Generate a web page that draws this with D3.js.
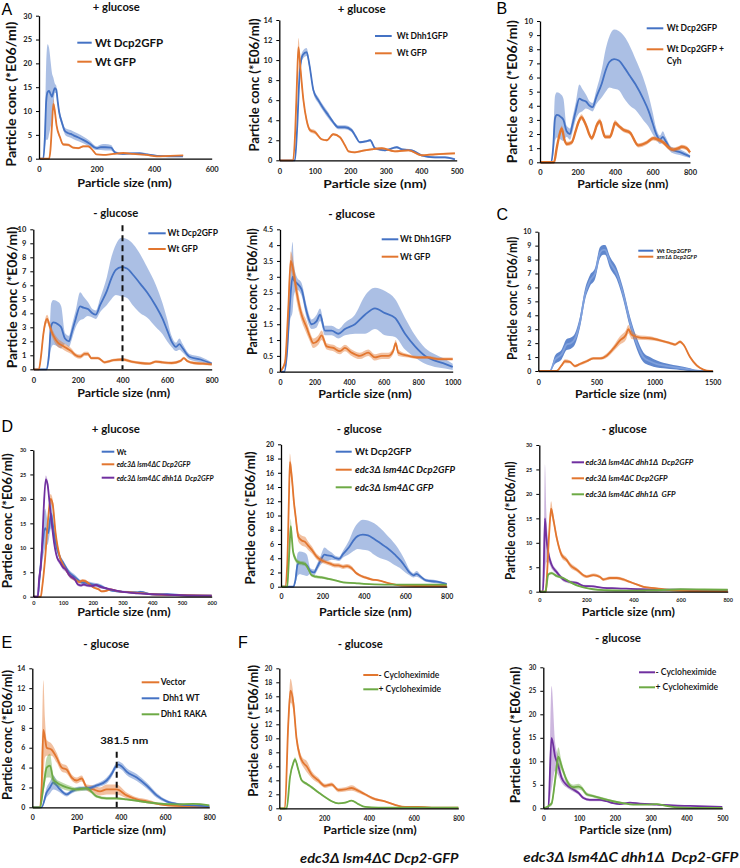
<!DOCTYPE html>
<html><head><meta charset="utf-8">
<script src="https://cdn.jsdelivr.net/npm/d3@7"></script>
<style>body{margin:0;background:#fff}text{white-space:pre}</style>
</head><body>
<svg id="c" width="740" height="868"></svg>
<script>
// ---------- DATA (particle size nm, conc *E06/ml, error half-width) ----------
// A +glucose: Wt Dcp2GFP / Wt GFP
const a1DcpX=[0,15,20,25,30,35,40,45,50,55,60,65,70,80,90,100,110,120,135,155,175,200,215,230,250,265,290,320,350,375,410,450,500];
const a1DcpY=[0,0,4,12,14,14.2,13.6,13,14,14.8,14.5,12,9.8,7.5,5.8,5.4,5.2,4.9,4.5,3.9,3.2,2.2,2.4,2.4,2.3,1.3,1.0,1.1,1.1,0.9,0.6,0.5,0.5];
const a1DcpE=[0,0,2,8,10,9,7,5,3,1,0.8,0.8,0.7,0.7,0.7,0.8,0.8,0.8,0.8,0.7,0.6,0.4,0.6,0.7,0.6,0.3,0.2,0.2,0.3,0.2,0.1,0.1,0.1];
const a1GfpX=[0,35,40,45,50,55,61,73,84,102,119,137,154,171,189,200,223,258,293,328,374,409,455,501];
const a1GfpY=[0,0,2,7,11.5,10,7,4.5,3,2.9,2.3,2.2,2.6,2.6,1.6,0.9,0.8,1.0,1.2,1.0,0.8,0.5,0.6,0.7];
const a1GfpE=[0,0,0.5,0.8,1,0.8,0.5,0.3,0.3,0.3,0.2,0.2,0.2,0.2,0.2,0.1,0.1,0.1,0.1,0.1,0.1,0.1,0.1,0.1];
// A +glucose: Wt Dhh1GFP / Wt GFP
const a2DhhX=[0,44,50,58,66,77,85,96,110,124,138,152,166,185,204,215,227,245,256,270,298,331,345,373,401,439,467,495];
const a2DhhY=[0,0,3,9,10.5,10.8,9.5,7,6,5.2,4.5,3.8,3.3,3.3,3,2.4,1.8,1.9,2,1.2,1,1.3,1.1,1,0.5,0.3,0.3,0.1];
const a2DhhE=[0,0,0.5,0.5,0.4,0.4,0.3,0.3,0.3,0.3,0.3,0.2,0.2,0.2,0.2,0.2,0.1,0.1,0.1,0.1,0.1,0.1,0.1,0.1,0.1,0.1,0.1,0.1];
const a2GfpX=[0,39,45,50,54,60,68,77,87,101,119,134,152,171,185,195,213,241,260,289,326,364,401,439,495];
const a2GfpY=[0,0,3,8,11.3,9,6,4,3,2.8,2.1,2.0,2.6,2.3,1.5,0.9,0.8,1,1.1,1.2,0.9,1,0.5,0.6,0.7];
const a2GfpE=[0,0,0.5,0.8,0.9,0.6,0.4,0.3,0.2,0.2,0.1,0.1,0.1,0.1,0.1,0.1,0.1,0.1,0.1,0.1,0.1,0.1,0.1,0.1,0.1];
// -glucose Wt Dcp2GFP (B, A lower left, D middle)
const ngDcpX=[0,60,70,80,90,112,125,142,160,172,190,210,225,245,265,280,300,330,350,370,395,420,450,480,510,550,580,600,620,640,655,670,700,750,800];
const ngDcpY=[0,0,1,3.1,3.35,3.2,3.0,2.2,2.0,2.6,3.6,4.5,4.4,4.3,4.0,3.9,4.6,5.6,6.5,7.1,7.3,7.2,6.7,6.1,5.5,4.5,3.6,2.8,2.0,1.6,1.8,1.5,0.9,0.7,0.4];
const ngDcpE=[0,0,0.5,1.6,1.6,1.6,1.5,0.4,0.4,0.5,0.6,1.0,0.8,0.5,0.3,0.3,0.5,1.0,1.5,1.8,2.1,2.1,2.2,2.1,1.8,1.5,1.1,0.8,0.4,0.3,0.4,0.3,0.2,0.2,0.1];
// B: Wt Dcp2GFP + Cyh
const bCyhX=[0,75,89,105,116,130,142,169,190,204,222,236,249,262,276,290,302,320,335,347,373,390,400,418,444,480,524,569,604,630,658,690,711,740,756,782,800];
const bCyhY=[0,0,1.0,2.0,2.4,1.6,1.3,1.4,2.2,2.8,3.2,2.9,2.5,2.0,1.7,2.1,2.6,2.9,2.2,1.8,1.8,2.4,2.8,2.6,2.3,2.1,1.2,1.4,1.7,1.6,1.4,1.0,0.9,1.0,1.1,1.0,0.7];
const bCyhE=[0,0,0.15,0.2,0.2,0.15,0.15,0.15,0.15,0.2,0.2,0.2,0.15,0.15,0.15,0.15,0.2,0.2,0.15,0.15,0.15,0.2,0.2,0.15,0.15,0.15,0.15,0.15,0.15,0.15,0.15,0.15,0.15,0.15,0.15,0.15,0.15];
// A -glucose: Wt GFP
const a3GfpX=[0,25,35,45,55,62,75,90,110,130,150,170,190,210,230,245,260,290,320,360,400,440,480,520,550,580,620,660,675,690,720,760,800];
const a3GfpY=[0,0,1.0,2.5,3.4,3.6,3.0,2.4,1.9,1.7,1.5,1.3,1.0,0.9,1.1,1.1,0.8,0.8,0.5,0.65,0.7,0.55,0.45,0.4,0.55,0.5,0.45,0.6,0.8,0.6,0.45,0.4,0.35];
const a3GfpE=[0,0,0.3,0.3,0.3,0.3,0.3,0.3,0.3,0.25,0.25,0.2,0.15,0.15,0.15,0.15,0.1,0.1,0.1,0.1,0.1,0.1,0.1,0.1,0.1,0.1,0.1,0.1,0.1,0.1,0.1,0.1,0.1];
const a3Marker=400;
// A -glucose: Wt Dhh1GFP / Wt GFP
const a4DhhX=[0,25,39,58,73,80,97,125,154,183,212,232,260,299,338,376,434,492,550,608,666,724,782,840,897,955,1000];
const a4DhhY=[0,0,0.5,2.2,3.0,2.9,2.8,2.6,1.9,1.5,1.6,1.8,1.3,1.3,1.2,1.35,1.5,1.8,2.0,1.85,1.7,1.2,0.8,0.5,0.35,0.25,0.15];
const a4DhhE=[0,0,0.2,0.6,1.1,0.5,0.2,0.2,0.2,0.15,0.2,0.2,0.15,0.15,0.15,0.2,0.3,0.6,0.65,0.7,0.6,0.5,0.35,0.25,0.2,0.15,0.1];
const a4GfpX=[0,29,48,62,77,97,125,154,174,193,222,241,270,309,347,376,415,463,511,550,589,627,655,670,685,743,801,859,917,1000];
const a4GfpY=[0,0.3,2,3.5,3.2,2.5,1.8,1.4,1.1,0.9,1.0,1.15,0.8,0.75,0.65,0.75,0.6,0.5,0.6,0.45,0.5,0.5,0.65,0.9,0.6,0.5,0.45,0.45,0.4,0.4];
const a4GfpE=[0,0.1,0.3,0.3,0.3,0.3,0.2,0.2,0.15,0.15,0.15,0.15,0.1,0.1,0.1,0.1,0.1,0.1,0.1,0.1,0.1,0.1,0.1,0.1,0.1,0.05,0.05,0.05,0.05,0.05];
// C: Wt Dcp2GFP / xrn1 Dcp2GFP
const cWtX=[0,100,143,201,244,280,315,358,402,445,488,531,560,574,617,674,731,789,846,903,960,1020,1075,1190,1305,1391,1500];
const cWtY=[0,0,0.8,1.2,1.9,2.0,2.3,3.5,5.5,6.5,7.0,8.5,8.7,8.7,7.8,7.0,5.5,3.5,2.0,1.0,0.7,0.5,0.4,0.25,0.1,0,0];
const cWtE=[0,0,0.3,0.35,0.4,0.4,0.4,0.4,0.4,0.4,0.4,0.4,0.35,0.35,0.4,0.4,0.4,0.4,0.4,0.35,0.3,0.25,0.2,0.15,0.1,0,0];
const cXrnX=[0,158,200,229,272,315,358,416,473,531,588,645,703,754,774,790,803,875,961,1047,1133,1176,1219,1248,1305,1362,1420,1477,1500];
const cXrnY=[0,0,0.4,0.7,0.65,0.35,0.5,0.7,0.9,0.9,1.1,1.6,2.2,2.6,3.0,2.8,2.6,2.4,2.35,2.2,2.0,1.9,2.1,1.9,1.0,0.4,0.1,0,0];
const cXrnE=[0,0,0.1,0.15,0.1,0.1,0.1,0.1,0.1,0.1,0.15,0.2,0.3,0.35,0.3,0.3,0.3,0.15,0.15,0.1,0.1,0.1,0.1,0.1,0.1,0.1,0.05,0,0];
// D +glucose
const d1WtX=[0,15,20,30,40,50,60,65,75,90,100,120,140,160,180,200,220,240,260,300,350,360,400,450,500,600];
const d1WtY=[0,0,3,10,14,13,17,15,11,8,7,5,4,3,2.8,2.5,2.3,1.8,1.3,1,0.9,1,0.5,0.5,0.3,0.2];
const d1WtE=[0,0,1,3,4,2,3,2,1,0.6,0.5,0.5,0.5,0.4,0.4,0.4,0.4,0.3,0.2,0.2,0.2,0.2,0.1,0.1,0.1,0.1];
const d1LsmX=[0,25,30,40,50,58,65,75,90,100,110,120,140,155,165,175,190,200,220,230,245,260,280,300,350,400,500,600];
const d1LsmY=[0,0,2,8,16,20,19,13,8,6.5,5.5,4.5,3.5,3,3.3,3.2,2.5,2,1.5,1.1,1.2,1.5,1.2,1,0.8,0.5,0.3,0.2];
const d1LsmE=[0,0,0.5,1,1,1,1,0.8,0.5,0.4,0.4,0.3,0.3,0.3,0.3,0.3,0.2,0.2,0.2,0.2,0.2,0.2,0.1,0.1,0.1,0.1,0.1,0.1];
const d1DhhX=[0,15,20,25,30,35,42,48,55,62,70,80,90,100,110,120,140,150,160,170,180,200,210,225,240,260,300,350,400,450,500,600];
const d1DhhY=[0,0,4,6,11,18,24,23,19,15,11,8,7,6,5.5,4.5,3.5,2.5,2.3,2.5,2.3,2.2,2.4,2,1.8,1.5,1.0,0.7,0.5,0.4,0.3,0.2];
const d1DhhE=[0,0,1.5,1.5,1.5,1,0.8,0.8,0.8,0.6,0.5,0.5,0.5,0.5,0.5,0.5,0.4,0.3,0.3,0.3,0.3,0.3,0.3,0.3,0.2,0.2,0.2,0.1,0.1,0.1,0.1,0.1];
// D -glucose (middle)
const d2LsmX=[0,20,30,38,43,48,55,62,70,84,100,116,130,148,170,190,212,240,260,277,300,320,341,360,380,406,440,470,518,550,583,650,800];
const d2LsmY=[0,0,3,12,17.5,16.5,14.5,12,10,7,6.5,6.3,5.8,5.2,4.3,3.8,3.5,3.2,3.0,3.0,2.8,2.9,2.6,2.0,1.6,1.3,1.0,0.9,0.5,0.3,0.15,0.1,0.1];
const d2LsmE=[0,0,1,1.2,1.2,1.2,1,0.9,0.8,0.7,0.7,0.7,0.6,0.5,0.4,0.4,0.3,0.3,0.3,0.3,0.3,0.3,0.3,0.2,0.2,0.2,0.15,0.1,0.1,0.1,0.05,0.05,0.05];
const d2GfpX=[0,30,35,42,47,52,58,68,80,100,116,130,148,170,196,230,261,300,357,400,500,600,700,800];
const d2GfpY=[0,0,2,6,8.5,7,5,4,3.5,3.3,3.2,2.6,1.6,1.4,1.3,1.1,0.9,0.6,0.5,0.4,0.3,0.3,0.3,0.3];
const d2GfpE=[0,0,0.5,0.8,1,0.8,0.5,0.4,0.3,0.3,0.3,0.3,0.2,0.2,0.2,0.15,0.1,0.1,0.1,0.1,0.05,0.05,0.05,0.05];
// D -glucose (right)
const d3DhhX=[0,15,18,24,30,38,52,74,102,130,159,187,229,272,329,428,569,800];
const d3DhhY=[0,0,3,15,11,8,5.5,4,2.5,2,1.8,1.2,1.1,0.8,0.7,0.5,0.4,0.3];
const d3DhhE=[0,0,2,11,5,2,0.8,0.5,0.4,0.3,0.3,0.2,0.2,0.1,0.1,0.1,0.1,0.05];
const d3LsmX=[0,28,31,42,50,59,74,95,116,130,159,201,229,258,272,300,329,357,385,413,442,498,541,583,640,800];
const d3LsmY=[0,0,2,12,17,15,11,7.5,6.5,5.5,4.5,3.1,3.4,3,2.5,2.8,2.8,2.5,2,1.5,1.0,0.7,0.4,0.2,0.1,0.05];
const d3LsmE=[0,0,0.5,1,1.5,1,0.8,0.6,0.5,0.5,0.4,0.3,0.3,0.3,0.3,0.3,0.3,0.3,0.2,0.2,0.2,0.1,0.1,0.05,0.05,0.05];
const d3GfpX=[0,26,30,38,52,74,102,130,159,187,229,286,357,450,500,600,700,800];
const d3GfpY=[0,0,1,3.5,3.8,3.2,2.8,2,1.3,0.9,0.5,0.3,0.2,0.25,0.3,0.5,0.45,0.4];
const d3GfpE=[0,0,0.3,0.3,0.3,0.3,0.2,0.2,0.15,0.1,0.1,0.05,0.05,0.05,0.05,0.05,0.05,0.05];
// E
const eVecX=[0,33,42,50,57,65,87,110,133,155,178,200,223,246,276,306,336,381,426,472,517,577,652,758,800];
const eVecY=[0,0,2,7.8,7,6,5.8,5,4,3.8,3,2.7,2.9,2.0,1.8,1.6,1.8,1.8,1.2,0.8,0.6,0.3,0.15,0.1,0.05];
const eVecE=[0,0,2,5,2,0.8,0.6,0.5,0.4,0.4,0.3,0.3,0.3,0.3,0.4,0.4,0.5,0.5,0.3,0.2,0.2,0.1,0.1,0.05,0.05];
const eWtX=[0,42,65,80,95,110,125,155,178,215,246,291,336,360,374,389,405,426,472,517,562,607,667,728,800];
const eWtY=[0,0,1.5,2.0,2.5,2.2,1.8,1.3,1.6,1.9,1.9,2.2,2.7,3.4,4.0,4.3,4.1,3.6,3.0,2.2,1.2,0.6,0.3,0.2,0.1];
const eWtE=[0,0,0.5,0.6,0.7,0.5,0.3,0.2,0.2,0.2,0.2,0.2,0.3,0.3,0.3,0.35,0.35,0.35,0.35,0.3,0.25,0.15,0.1,0.05,0.05];
const eRakaX=[0,35,50,65,80,95,110,125,155,200,246,291,336,381,426,487,562,652,728,800];
const eRakaY=[0,0,2,4,4.2,2.8,2.5,2.3,2.0,1.8,1.9,1.1,0.9,0.9,0.8,0.6,0.4,0.3,0.35,0.2];
const eRakaE=[0,0,0.6,1,1.2,0.5,0.3,0.3,0.3,0.2,0.2,0.15,0.15,0.15,0.1,0.1,0.1,0.05,0.05,0.05];
const eMarker=381.5, eMarkerTop=5.6;
// F left
const f1MinusX=[0,25,40,50,63,77,92,107,122,145,174,204,234,264,294,323,353,383,428,472,517,562,621,681,800];
const f1MinusY=[0,0,12,16.8,15,10,7.5,6.5,6,4.8,4,3.2,3.4,2.6,2.7,2.9,2.5,2.0,1.3,1.0,0.5,0.2,0.2,0.1,0.1];
const f1MinusE=[0,0,1.5,1.7,1.2,0.8,0.6,0.6,0.8,0.5,0.4,0.3,0.3,0.3,0.3,0.4,0.3,0.2,0.2,0.1,0.1,0.1,0.1,0.05,0.05];
const f1PlusX=[0,33,48,63,70,85,100,122,145,174,204,234,264,294,323,353,383,443,800];
const f1PlusY=[0,0,4.5,6.5,7,5.5,4,3.5,3,2.3,1.6,1.0,0.7,0.8,1.1,0.6,0.2,0.1,0.1];
const f1PlusE=[0,0,0.3,0.3,0.3,0.3,0.2,0.2,0.2,0.15,0.1,0.1,0.1,0.1,0.1,0.1,0.05,0.05,0.05];
// F right
const f2MinusX=[0,14,23,33,42,51,65,84,98,112,130,158,177,195,214,242,270,317,363,410,500];
const f2MinusY=[0,0,15,11,9,6.5,5,4,3.3,2.2,1.8,1.8,1.5,1.1,0.9,1.2,1.0,0.8,0.6,0.5,0.3];
const f2MinusE=[0,0,11,3,2,1,0.6,0.5,0.4,0.3,0.3,0.3,0.2,0.2,0.1,0.1,0.1,0.1,0.1,0.05,0.05];
const f2PlusX=[0,23,33,42,51,65,84,98,107,121,140,168,195,223,251,289,317,344,372,410,500];
const f2PlusY=[0,1,6,11,9,6,4.5,4.6,4.3,3,2.6,2,1.5,1.1,0.8,0.8,0.9,0.5,0.2,0.1,0.1];
const f2PlusE=[0,0.5,1.5,2,1,0.6,0.5,0.6,0.5,0.4,0.3,0.3,0.2,0.2,0.1,0.1,0.1,0.1,0.05,0.05,0.05];

const yLabelText="Particle conc (*E06/ml)";
const xLabelText="Particle size (nm)";

// ---------- STYLE / LAYOUT ----------
const BLUE="#4472C4", ORANGE="#E2762F", GREEN="#6DAA45", PURPLE="#7030A0";
const FONT="Lato, 'Noto Sans', 'DejaVu Sans', sans-serif";
function S(x,y,e,color,o){return Object.assign({x,y,e,color},o||{});}

const panels=[
 {L:39,R:211.7,T:15.7,B:158.7,xMax:600,xStep:200,yMax:30,yStep:5,tfs:7.5,xtd:13,
  letter:["A",1.5,14.5],title:["+ glucose",116.3,11,47],ylab:[11,94.2,145],xlab:[124.5,187,94.3],
  leg:{x1:77.3,x2:91.7,tx:95,fs:11.5,items:[["Wt Dcp2GFP",BLUE,42.7],["Wt GFP",ORANGE,61.7]]},
  series:[S(a1DcpX,a1DcpY,a1DcpE,BLUE),S(a1GfpX,a1GfpY,a1GfpE,ORANGE)]},
 {L:279.3,R:456.7,T:20,B:160.3,xMax:500,xStep:100,yMax:14,yStep:2,tfs:7.5,xtd:14,
  title:["+ glucose",361.7,13.3,48],ylab:[254.2,85,133],xlab:[375,187.5,103.3],
  leg:{x1:375,x2:391.7,tx:396.7,fs:8.5,items:[["Wt Dhh1GFP",BLUE,36],["Wt GFP",ORANGE,53.3]]},
  series:[S(a2DhhX,a2DhhY,a2DhhE,BLUE),S(a2GfpX,a2GfpY,a2GfpE,ORANGE)]},
 {L:540,R:690,T:21,B:162.3,xMax:800,xStep:200,yMax:10,yStep:1,tfs:7.5,xtd:12.3,
  letter:["B",496.5,14],ylab:[512.5,91.7,143],xlab:[622.8,187.8,91],
  leg:{x1:646.7,x2:663.3,tx:666.7,fs:8.5,items:[["Wt Dcp2GFP",BLUE,28.3],["Wt Dcp2GFP +",ORANGE,49.3],["Cyh",null,60.7]]},
  series:[S(ngDcpX,ngDcpY,ngDcpE,BLUE),S(bCyhX,bCyhY,bCyhE,ORANGE,{lw:2.4})]},
 {L:33.3,R:211.7,T:229.3,B:369.3,xMax:800,xStep:200,yMax:10,yStep:1,tfs:7.5,xtd:14,
  title:["- glucose",115.8,216.7,45],ylab:[12.5,297.5,141.7],xlab:[123.7,397,93],
  leg:{x1:148.3,x2:165.7,tx:167.5,fs:8.5,items:[["Wt Dcp2GFP",BLUE,233.3],["Wt GFP",ORANGE,249]]},
  series:[S(ngDcpX,ngDcpY,ngDcpE,BLUE),S(a3GfpX,a3GfpY,a3GfpE,ORANGE)],marker:[a3Marker,null]},
 {L:280,R:452.7,T:229.3,B:371.7,xMax:1000,xStep:200,yMax:4.5,yStep:0.5,tfs:7,xtd:13.5,
  title:["- glucose",351.7,217.7,46.7],ylab:[252.5,291.7,126.7],xlab:[365,397.5,93.3],
  leg:{x1:381.7,x2:398.3,tx:400,fs:8.5,items:[["Wt Dhh1GFP",BLUE,239.3],["Wt GFP",ORANGE,256.7]]},
  series:[S(a4DhhX,a4DhhY,a4DhhE,BLUE),S(a4GfpX,a4GfpY,a4GfpE,ORANGE)]},
 {L:538.3,R:712.7,T:231.7,B:371,xMax:1500,xStep:500,yMax:10,yStep:1,tfs:7,xtd:13.5,
  letter:["C",496.5,220],ylab:[512.5,298.3,123.3],xlab:[620.8,397.5,91.7],
  leg:{x1:638.3,x2:653.3,tx:656.7,fs:5.8,items:[["Wt Dcp2GFP",BLUE,250.7],["xrn1Δ Dcp2GFP",ORANGE,256.7,true]]},
  series:[S(cWtX,cWtY,cWtE,BLUE,{op:0.85,lc:"#7fa0dc"}),S(cXrnX,cXrnY,cXrnE,ORANGE)]},
 {L:33.3,R:211.7,T:450,B:596.7,xMax:600,xStep:100,yMax:30,yStep:5,tfs:5.5,xtd:8,
  letter:["D",1.5,431.7],title:["+ glucose",115.8,433.3,48],ylab:[7.5,520.8,135],xlab:[124,616,93.3],
  leg:{x1:101.7,x2:114.3,tx:116.7,fs:7,items:[["Wt",BLUE,451.7],["edc3Δ lsm4ΔC Dcp2GFP",ORANGE,464.3,true],["edc3Δ lsm4ΔC dhh1Δ  Dcp2GFP",PURPLE,477.7,true]]},
  series:[S(d1WtX,d1WtY,d1WtE,BLUE),S(d1LsmX,d1LsmY,d1LsmE,ORANGE),S(d1DhhX,d1DhhY,d1DhhE,PURPLE,{op:0.35})]},
 {L:281,R:446.7,T:444.3,B:586.7,xMax:800,xStep:200,yMax:20,yStep:2,tfs:7,xtd:12,
  title:["- glucose",359.2,433.3,45],ylab:[250,518,133],xlab:[365.3,616,92.7],
  leg:{x1:335.7,x2:351.7,tx:355,fs:9.5,items:[["Wt Dcp2GFP",BLUE,451.7],["edc3Δ lsm4ΔC Dcp2GFP",ORANGE,469.7,true],["edc3Δ lsm4ΔC GFP",GREEN,487.3,true]]},
  series:[S(ngDcpX,ngDcpY,ngDcpE,BLUE),S(d2LsmX,d2LsmY,d2LsmE,ORANGE),S(d2GfpX,d2GfpY,d2GfpE,GREEN)]},
 {L:539.3,R:727.7,T:445,B:591.7,xMax:800,xStep:200,yMax:30,yStep:5,tfs:5.5,xtd:10,
  title:["- glucose",624.2,433.3,45],ylab:[510.8,520.8,118.3],xlab:[628.3,616,93.3],
  leg:{x1:571.7,x2:584,tx:585.5,fs:7.8,items:[["edc3Δ lsm4ΔC dhh1Δ  Dcp2GFP",PURPLE,462.3,true],["edc3Δ lsm4ΔC Dcp2GFP",ORANGE,478.3,true],["edc3Δ lsm4ΔC dhh1Δ  GFP",GREEN,494.3,true]]},
  series:[S(d3DhhX,d3DhhY,d3DhhE,PURPLE,{op:0.35}),S(d3LsmX,d3LsmY,d3LsmE,ORANGE),S(d3GfpX,d3GfpY,d3GfpE,GREEN)]},
 {L:32.3,R:209.3,T:668.3,B:807.3,xMax:800,xStep:200,yMax:14,yStep:2,tfs:7,xtd:12.5,
  letter:["E",1.5,648.3],title:["- glucose",106.3,648.3,46],ylab:[7.5,735,130],xlab:[119.3,833.5,93.3],
  leg:{x1:141.7,x2:159.3,tx:160.7,fs:8.5,items:[["Vector",ORANGE,682.3],[" Dhh1 WT",BLUE,698.3],["Dhh1 RAKA",GREEN,714.3]]},
  series:[S(eVecX,eVecY,eVecE,ORANGE),S(eWtX,eWtY,eWtE,BLUE),S(eRakaX,eRakaY,eRakaE,GREEN)],
  marker:[eMarker,eMarkerTop],mlabel:["381.5 nm",744,48]},
 {L:279.3,R:458.3,T:668.3,B:808.3,xMax:800,xStep:200,yMax:20,yStep:2,tfs:6.5,xtd:12.5,
  letter:["F",238,648.3],title:["- glucose",360.2,648.3,45],ylab:[253.3,730.8,131.7],xlab:[370,834,93.3],
  leg:{x1:363.3,x2:378.3,tx:378.5,fs:8.6,fw:600,items:[["- Cycloheximide",ORANGE,675],["+ Cycloheximide",GREEN,689.3]]},
  series:[S(f1MinusX,f1MinusY,f1MinusE,ORANGE),S(f1PlusX,f1PlusY,f1PlusE,GREEN)],
  caption:["edc3Δ lsm4ΔC Dcp2-GFP",379.2,862.7,158.3]},
 {L:543.3,R:722.3,T:667.3,B:808.3,xMax:500,xStep:100,yMax:30,yStep:5,tfs:6.5,xtd:12.5,
  title:["- glucose",618,641.7,46],ylab:[515.8,735,136.7],xlab:[625.5,834,92.3],
  leg:{x1:639,x2:655,tx:655.5,fs:8.6,fw:600,items:[["- Cycloheximide",PURPLE,672.3],["+ Cycloheximide",GREEN,687.3]]},
  series:[S(f2MinusX,f2MinusY,f2MinusE,PURPLE,{op:0.35}),S(f2PlusX,f2PlusY,f2PlusE,GREEN)],
  caption:["edc3Δ lsm4ΔC dhh1Δ  Dcp2-GFP",630.8,861.7,215]}
];

const svg=d3.select("#c");
svg.append("rect").attr("width",740).attr("height",868).attr("fill","#fff");

function txt(g,s,x,y,o){
  const t=g.append("text").attr("x",x).attr("y",y).text(s)
    .attr("font-family",o.ff||FONT).attr("font-size",o.fs)
    .attr("font-weight",o.fw||"bold").attr("font-style",o.it?"italic":"normal")
    .attr("text-anchor",o.anchor||"start").attr("fill",o.fill||"#111");
  if(o.db) t.attr("dominant-baseline",o.db);
  if(o.w) t.attr("textLength",o.w).attr("lengthAdjust","spacingAndGlyphs");
  return t;
}

panels.forEach(p=>{
  const g=svg.append("g");
  const x=d3.scaleLinear().domain([0,p.xMax]).range([p.L,p.R]);
  const y=d3.scaleLinear().domain([0,p.yMax]).range([p.B,p.T]);
  // series
  p.series.forEach(s=>{
    const pts=s.x.map((v,i)=>({x:v,y:s.y[i],e:s.e[i]}));
    const area=d3.area().x(d=>x(d.x)).y0(d=>y(Math.max(0,d.y-d.e))).y1(d=>y(d.y+d.e)).curve(d3.curveMonotoneX);
    g.append("path").attr("d",area(pts)).attr("fill",s.color).attr("fill-opacity",s.op||0.45);
    const line=d3.line().x(d=>x(d.x)).y(d=>y(d.y)).curve(d3.curveMonotoneX);
    g.append("path").attr("d",line(pts)).attr("fill","none").attr("stroke",s.lc||s.color)
      .attr("stroke-width",s.lw||1.8).attr("stroke-linejoin","round");
  });
  // axes
  const fmt=d3.format("~g");
  const ya=d3.axisLeft(y).tickValues(d3.range(0,p.yMax+p.yStep/2,p.yStep)).tickSize(3).tickSizeOuter(0).tickPadding(4).tickFormat(fmt);
  const xa=d3.axisBottom(x).tickValues(d3.range(0,p.xMax+p.xStep/2,p.xStep)).tickSize(0).tickSizeOuter(0).tickPadding(p.xtd-0.71*p.tfs).tickFormat(fmt);
  const yg=g.append("g").attr("transform",`translate(${p.L},0)`).call(ya);
  const xg=g.append("g").attr("transform",`translate(0,${p.B})`).call(xa);
  [yg,xg].forEach(a=>{
    a.select(".domain").attr("stroke","#000").attr("stroke-width",1.3);
    a.selectAll(".tick line").attr("stroke","#000").attr("stroke-width",1);
    a.selectAll(".tick text").attr("font-family",FONT).attr("font-size",p.tfs).attr("font-weight","bold").attr("fill","#222");
  });
  // marker
  if(p.marker){
    const mx=x(p.marker[0]);
    const top=p.marker[1]==null? p.T-4 : y(p.marker[1]);
    g.append("line").attr("x1",mx).attr("x2",mx).attr("y1",top).attr("y2",p.B)
      .attr("stroke","#111").attr("stroke-width",2).attr("stroke-dasharray","6,4");
    if(p.mlabel) txt(g,p.mlabel[0],mx+7.5,p.mlabel[1],{fs:10,anchor:"middle",w:p.mlabel[2]});
  }
  // labels
  if(p.letter) txt(g,p.letter[0],p.letter[1],p.letter[2],{fs:16,fw:"normal",ff:"'Liberation Sans', Arial, sans-serif",fill:"#000"});
  if(p.title) txt(g,p.title[0],p.title[1],p.title[2],{fs:12,anchor:"middle",w:p.title[3]});
  txt(g,xLabelText,p.xlab[0],p.xlab[1],{fs:11,anchor:"middle",w:p.xlab[2]});
  txt(g,yLabelText,0,0,{fs:12.5,anchor:"middle",db:"central",w:p.ylab[2]})
    .attr("transform",`translate(${p.ylab[0]},${p.ylab[1]}) rotate(-90)`);
  // legend
  const lg=p.leg;
  lg.items.forEach(it=>{
    if(it[1]) g.append("line").attr("x1",lg.x1).attr("x2",lg.x2).attr("y1",it[2]).attr("y2",it[2])
      .attr("stroke",it[1]).attr("stroke-width",2);
    txt(g,it[0],lg.tx,it[2],{fs:lg.fs,fw:lg.fw||"bold",it:it[3],db:"central"});
  });
  if(p.caption) txt(g,p.caption[0],p.caption[1],p.caption[2],{fs:14,it:true,anchor:"middle",w:p.caption[3]});
});
</script>
</body></html>
